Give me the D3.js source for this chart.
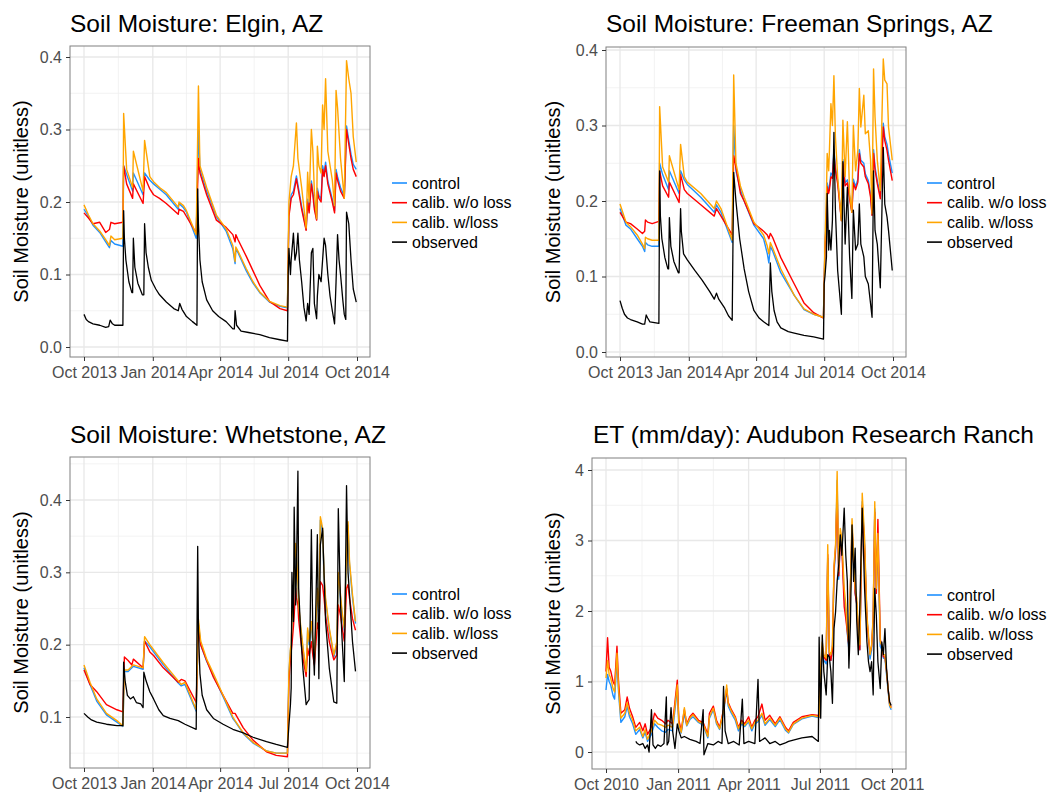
<!DOCTYPE html>
<html>
<head>
<meta charset="utf-8">
<script src="https://cdn.jsdelivr.net/npm/d3@7"></script>
<style>
  html, body { margin: 0; padding: 0; background: #ffffff; }
  svg { display: block; font-family: "Liberation Sans", Arial, Helvetica, sans-serif; }
</style>
</head>
<body>
<svg id="chart" width="1057" height="792"></svg>
<script>
// ---------------- DATA (days since series start, values) ----------------
const seriesNames = ["control", "calib. w/o loss", "calib. w/loss", "observed"];
const seriesColors = ["#1E90FF", "#FF0000", "#FFA500", "#000000"];

// Elgin, AZ (start 2013-10-01)
const elginDays = [0,6,12,21,29,34,36,41,52,53,57,65,66,79,81,88,93,101,110,126,127,133,137,150,153,155,164,177,190,199,202,203,206,217,226,235,248,262,272,
  274,277,280,284,286,291,297,299,301,304,306,308,311,312,314,317,319,321,323,326,332,335,337,339,343,348,351,354,357,360,364];
const elginControl = [0.19,0.18,0.168,0.158,0.145,0.137,0.147,0.142,0.139,0.25,0.238,0.215,0.24,0.21,0.24,0.23,0.225,0.218,0.21,0.19,0.198,0.192,0.186,0.15,0.3,0.245,0.215,0.18,0.16,0.135,0.115,0.135,0.13,0.105,0.088,0.075,0.062,0.056,0.054,
  0.183,0.21,0.215,0.236,0.224,0.194,0.162,0.204,0.189,0.229,0.214,0.194,0.176,0.219,0.209,0.204,0.25,0.24,0.255,0.229,0.204,0.188,0.245,0.235,0.22,0.208,0.305,0.285,0.266,0.252,0.245];
const elginNoLoss = [0.185,0.178,0.17,0.172,0.158,0.162,0.172,0.17,0.172,0.25,0.225,0.205,0.225,0.198,0.235,0.218,0.21,0.205,0.198,0.183,0.19,0.187,0.18,0.157,0.26,0.24,0.21,0.175,0.165,0.155,0.145,0.155,0.148,0.125,0.105,0.085,0.063,0.053,0.05,
  0.18,0.205,0.21,0.232,0.22,0.19,0.161,0.2,0.185,0.225,0.21,0.19,0.175,0.215,0.205,0.2,0.245,0.235,0.25,0.225,0.2,0.185,0.24,0.23,0.215,0.205,0.3,0.28,0.26,0.245,0.235];
const elginLoss = [0.196,0.182,0.17,0.16,0.148,0.14,0.153,0.148,0.15,0.322,0.245,0.22,0.27,0.215,0.285,0.235,0.228,0.22,0.213,0.193,0.2,0.195,0.188,0.155,0.36,0.25,0.22,0.182,0.163,0.14,0.118,0.138,0.132,0.108,0.09,0.076,0.063,0.057,0.055,
  0.2,0.235,0.25,0.309,0.26,0.22,0.164,0.241,0.2,0.3,0.27,0.215,0.177,0.277,0.25,0.24,0.334,0.3,0.37,0.27,0.23,0.195,0.354,0.33,0.26,0.205,0.395,0.37,0.35,0.29,0.255];
const elginObsDays = [0,3,6,12,21,29,33,35,38,41,52,53,54,56,60,64,65,66,68,72,78,80,81,83,86,90,96,101,110,120,126,128,131,137,145,151,152,153,155,158,164,172,180,190,199,201,202,204,210,220,235,248,262,272,
  273,274,276,277,280,282,284,286,288,291,294,297,299,301,303,304,306,308,311,312,314,317,319,321,323,326,329,332,335,337,339,341,343,346,348,350,351,354,357,360,364];
const elginObs = [0.045,0.038,0.035,0.032,0.03,0.027,0.028,0.037,0.032,0.03,0.03,0.188,0.15,0.12,0.09,0.075,0.075,0.15,0.11,0.088,0.072,0.072,0.17,0.13,0.11,0.092,0.08,0.072,0.062,0.053,0.05,0.06,0.052,0.042,0.035,0.03,0.218,0.17,0.12,0.09,0.065,0.05,0.042,0.035,0.025,0.025,0.05,0.03,0.022,0.02,0.017,0.013,0.01,0.008,
  0.1,0.136,0.1,0.12,0.157,0.12,0.13,0.157,0.12,0.09,0.055,0.036,0.06,0.045,0.1,0.13,0.136,0.06,0.039,0.07,0.1,0.09,0.12,0.15,0.14,0.1,0.07,0.05,0.032,0.09,0.155,0.12,0.1,0.065,0.045,0.038,0.186,0.17,0.12,0.08,0.062];

// Freeman Springs, AZ (start 2013-10-01)
const freemanDays = [0,8,14,23,30,33,34,37,43,52,53,57,65,66,79,81,86,90,108,126,129,135,150,152,155,161,166,179,192,197,199,201,204,215,233,246,259,272,
  274,276,277,279,280,282,284,286,288,291,296,298,301,304,307,310,312,315,318,320,322,326,328,332,335,337,339,341,344,348,352,354,357,359,364];
const freemanControl = [0.19,0.168,0.163,0.15,0.14,0.133,0.145,0.142,0.14,0.14,0.25,0.235,0.215,0.24,0.21,0.24,0.228,0.222,0.205,0.185,0.195,0.185,0.145,0.3,0.24,0.215,0.2,0.168,0.15,0.13,0.118,0.14,0.134,0.105,0.075,0.056,0.05,0.046,
  0.138,0.183,0.224,0.214,0.219,0.237,0.234,0.268,0.245,0.227,0.175,0.255,0.224,0.228,0.206,0.186,0.229,0.219,0.229,0.268,0.254,0.25,0.236,0.227,0.209,0.182,0.268,0.245,0.227,0.207,0.303,0.285,0.275,0.262,0.237];
const freemanNoLoss = [0.185,0.172,0.17,0.163,0.157,0.16,0.175,0.172,0.17,0.173,0.24,0.22,0.205,0.225,0.198,0.235,0.215,0.21,0.195,0.18,0.19,0.18,0.155,0.26,0.245,0.21,0.2,0.17,0.16,0.155,0.15,0.157,0.152,0.125,0.09,0.065,0.052,0.045,
  0.135,0.179,0.219,0.21,0.215,0.232,0.23,0.263,0.241,0.223,0.174,0.25,0.22,0.224,0.202,0.185,0.224,0.215,0.225,0.263,0.25,0.245,0.232,0.223,0.205,0.181,0.263,0.241,0.223,0.203,0.298,0.28,0.267,0.254,0.227];
const freemanLoss = [0.196,0.172,0.166,0.155,0.143,0.137,0.152,0.15,0.148,0.148,0.325,0.245,0.225,0.26,0.215,0.275,0.232,0.225,0.21,0.19,0.2,0.19,0.148,0.367,0.25,0.22,0.205,0.172,0.155,0.14,0.13,0.145,0.138,0.11,0.075,0.057,0.05,0.046,
  0.143,0.21,0.263,0.24,0.267,0.329,0.3,0.366,0.285,0.232,0.174,0.307,0.232,0.305,0.21,0.185,0.3,0.24,0.267,0.349,0.298,0.34,0.289,0.293,0.254,0.183,0.375,0.311,0.254,0.214,0.388,0.36,0.355,0.298,0.254];
const freemanObsDays = [0,3,6,10,14,23,30,33,35,37,40,52,53,54,56,60,64,65,66,68,72,78,79,81,82,85,90,100,110,120,126,129,132,140,145,150,152,155,160,166,172,179,186,192,199,201,203,206,210,215,225,233,246,259,272,
  273,274,276,277,279,280,282,284,286,288,291,296,298,301,304,307,310,312,315,318,320,322,326,328,332,335,337,339,341,344,348,352,354,357,359,364];
const freemanObs = [0.068,0.058,0.05,0.045,0.043,0.04,0.037,0.037,0.049,0.045,0.04,0.038,0.24,0.18,0.15,0.125,0.11,0.11,0.178,0.14,0.12,0.105,0.105,0.19,0.16,0.13,0.122,0.108,0.095,0.08,0.07,0.078,0.07,0.058,0.048,0.042,0.238,0.2,0.15,0.11,0.08,0.055,0.045,0.04,0.035,0.118,0.08,0.055,0.04,0.032,0.027,0.025,0.022,0.02,0.017,
  0.09,0.1,0.126,0.21,0.135,0.161,0.135,0.174,0.291,0.188,0.108,0.05,0.252,0.143,0.218,0.126,0.071,0.188,0.135,0.143,0.196,0.143,0.126,0.1,0.09,0.064,0.046,0.24,0.161,0.143,0.085,0.271,0.196,0.179,0.161,0.108];

// Whetstone, AZ (start 2013-10-01)
const whetDays = [0,8,17,30,44,52,54,59,64,66,79,81,88,93,106,126,130,135,150,153,156,164,173,186,199,202,213,226,244,257,272,
  274,276,277,278,280,281,283,284,286,287,290,293,297,299,301,304,306,308,312,314,316,319,321,323,328,334,338,340,343,345,348,351,353,355,359,363];
const whetControl = [0.168,0.145,0.122,0.103,0.093,0.087,0.163,0.163,0.168,0.17,0.166,0.205,0.197,0.19,0.172,0.147,0.143,0.145,0.108,0.23,0.2,0.177,0.157,0.128,0.098,0.094,0.077,0.064,0.053,0.05,0.05,
  0.16,0.192,0.197,0.228,0.265,0.296,0.336,0.32,0.283,0.251,0.22,0.192,0.16,0.22,0.2,0.228,0.2,0.174,0.274,0.246,0.372,0.357,0.292,0.26,0.22,0.183,0.2,0.296,0.265,0.242,0.22,0.32,0.365,0.31,0.265,0.229];
const whetNoLoss = [0.165,0.145,0.135,0.117,0.11,0.107,0.183,0.178,0.172,0.18,0.168,0.205,0.19,0.185,0.168,0.148,0.152,0.15,0.12,0.222,0.2,0.178,0.155,0.13,0.105,0.105,0.085,0.068,0.052,0.047,0.045,
  0.149,0.18,0.19,0.2,0.225,0.24,0.278,0.265,0.255,0.235,0.205,0.18,0.156,0.195,0.185,0.204,0.185,0.172,0.23,0.22,0.287,0.282,0.264,0.24,0.204,0.179,0.186,0.255,0.24,0.225,0.205,0.278,0.283,0.264,0.236,0.22];
const whetLoss = [0.172,0.148,0.125,0.105,0.095,0.088,0.165,0.165,0.17,0.172,0.168,0.211,0.2,0.193,0.175,0.15,0.145,0.148,0.11,0.235,0.205,0.18,0.16,0.13,0.1,0.095,0.078,0.065,0.053,0.05,0.05,
  0.163,0.195,0.2,0.232,0.269,0.3,0.34,0.324,0.287,0.255,0.223,0.195,0.163,0.223,0.204,0.232,0.204,0.177,0.278,0.25,0.377,0.361,0.296,0.264,0.223,0.186,0.204,0.3,0.269,0.246,0.223,0.324,0.37,0.315,0.269,0.232];
const whetObsDays = [0,5,10,17,30,44,52,53,55,58,62,66,70,76,79,80,83,88,93,100,106,115,126,135,150,152,153,155,158,164,173,186,199,213,226,244,257,272,
  274,276,277,278,280,281,283,284,286,287,290,293,297,299,301,304,306,308,312,314,316,319,321,323,328,334,338,340,343,345,348,351,353,355,359,363];
const whetObs = [0.105,0.1,0.096,0.093,0.09,0.088,0.088,0.176,0.15,0.13,0.125,0.128,0.12,0.118,0.113,0.162,0.15,0.135,0.125,0.11,0.102,0.098,0.095,0.09,0.083,0.336,0.22,0.16,0.13,0.11,0.098,0.09,0.083,0.078,0.072,0.066,0.062,0.058,
  0.089,0.117,0.14,0.3,0.232,0.39,0.255,0.3,0.44,0.278,0.209,0.163,0.117,0.121,0.124,0.359,0.209,0.158,0.352,0.153,0.338,0.361,0.296,0.232,0.167,0.121,0.119,0.388,0.255,0.209,0.149,0.42,0.3,0.269,0.204,0.163];

// Audubon Research Ranch ET (start 2010-10-01)
const audModelDays = [0,2,4,6,9,11,14,16,19,24,27,30,34,38,43,47,50,53,58,62,66,71,76,79,85,91,93,96,100,103,107,111,118,124,130,132,137,141,145,150,154,156,160,165,169,173,177,182,186,190,194,199,203,209,216,222,229,233,239,250,263,271,
  272,274,276,278,281,283,285,287,289,291,293,295,297,299,301,304,306,308,310,312,314,316,318,320,322,324,327,330,333,335,337,339,341,343,345,347,350,352,354,356,358,360,362,364];
const audControl = [0.88,1.1,1.0,0.95,0.8,0.75,1.3,0.85,0.42,0.5,0.65,0.5,0.4,0.25,0.32,0.2,0.28,0.15,0.25,0.4,0.35,0.3,0.28,0.32,0.3,0.9,0.38,0.27,0.55,0.37,0.46,0.5,0.42,0.38,0.2,0.48,0.6,0.4,0.32,0.55,0.88,0.65,0.55,0.45,0.3,0.4,0.36,0.43,0.3,0.4,0.43,0.52,0.38,0.46,0.36,0.46,0.31,0.27,0.39,0.47,0.51,0.49,
  0.49,1.1,1.45,1.3,1.25,2.75,1.35,1.3,1.45,2.55,2.85,3.85,2.45,3.05,2.95,2.2,2.0,1.68,1.45,2.35,3.2,2.7,2.25,2.1,1.68,1.45,3.55,2.95,1.88,1.6,1.32,1.45,1.88,3.45,2.25,3.0,1.5,1.45,1.33,1.33,1.1,0.87,0.65,0.6];
const audNoLoss = [1.14,1.62,1.2,1.15,1.0,0.95,1.5,1.0,0.55,0.6,0.78,0.62,0.5,0.35,0.42,0.3,0.4,0.25,0.35,0.55,0.48,0.45,0.4,0.45,0.4,1.02,0.45,0.3,0.6,0.4,0.5,0.55,0.45,0.42,0.25,0.55,0.65,0.45,0.35,0.6,0.9,0.7,0.6,0.5,0.35,0.45,0.4,0.5,0.35,0.45,0.5,0.68,0.45,0.52,0.4,0.5,0.35,0.3,0.42,0.5,0.53,0.52,
  0.5,1.15,1.5,1.35,1.3,2.8,1.4,1.3,1.45,2.6,2.9,3.7,2.5,2.95,2.9,2.06,1.9,1.7,1.5,2.35,3.2,2.7,2.25,2.1,1.7,1.45,3.5,2.9,1.9,1.6,1.4,1.5,1.9,3.4,2.25,3.3,1.6,1.5,1.35,1.35,1.15,0.9,0.68,0.63];
const audLoss = [1.05,1.3,1.1,1.05,0.9,0.85,1.4,0.9,0.48,0.55,0.7,0.55,0.45,0.3,0.35,0.22,0.32,0.18,0.3,0.45,0.4,0.38,0.35,0.38,0.35,0.95,0.4,0.28,0.63,0.38,0.48,0.53,0.43,0.4,0.22,0.5,0.62,0.42,0.33,0.58,0.95,0.68,0.58,0.48,0.33,0.42,0.38,0.45,0.33,0.42,0.45,0.55,0.4,0.48,0.38,0.48,0.33,0.28,0.4,0.48,0.52,0.5,
  0.5,1.19,1.56,1.38,1.33,2.94,1.42,1.38,1.52,2.65,2.94,3.98,2.56,3.17,3.03,2.32,2.09,1.75,1.52,2.42,3.31,2.79,2.32,2.18,1.75,1.52,3.67,3.03,1.94,1.66,1.38,1.52,1.94,3.55,2.32,3.1,1.56,1.52,1.38,1.38,1.14,0.9,0.67,0.62];
const audObsDays = [38,40,43,47,50,53,55,58,60,63,66,70,74,77,78,80,83,85,88,91,93,96,100,107,115,120,124,125,130,137,143,148,150,152,156,163,170,174,176,182,190,194,196,203,209,216,222,229,233,239,250,263,271,
  272,274,276,278,281,283,285,287,289,291,293,295,297,299,301,304,306,308,310,312,314,316,318,320,322,324,327,330,333,335,337,339,341,343,345,347,350,352,354,356,358,360,362,364];
const audObs = [0.15,0.12,0.1,0.12,0.05,0.1,0.0,0.6,0.1,0.05,0.1,0.08,0.12,0.78,0.1,0.15,0.63,0.3,0.05,0.4,0.3,0.2,0.22,0.18,0.15,0.12,0.6,-0.04,0.12,0.1,0.15,0.12,0.93,0.3,0.12,0.15,0.1,0.75,0.12,0.15,0.12,1.03,0.15,0.2,0.12,0.15,0.1,0.13,0.15,0.17,0.2,0.22,0.15,
  1.63,0.48,1.66,1.14,0.81,1.38,1.35,1.14,0.69,1.75,1.99,2.42,2.65,3.08,2.79,3.46,2.79,2.42,1.19,1.85,3.22,2.42,2.89,1.85,1.38,2.09,3.46,2.32,1.56,1.28,1.14,1.28,0.81,2.32,1.94,1.28,0.9,1.56,1.38,1.75,1.19,0.9,0.71,0.66];

const smTicks = [0.0, 0.1, 0.2, 0.3, 0.4];
const whetTicks = [0.1, 0.2, 0.3, 0.4];
const etTicks = [0, 1, 2, 3, 4];

// ---------------- LAYOUT ----------------
const panels = [
  { title: "Soil Moisture: Elgin, AZ", start: "2013-10-01",
    days: elginDays, model: [elginControl, elginNoLoss, elginLoss], obsDays: elginObsDays, obs: elginObs,
    left: 70, right: 370, top: 46, bottom: 357, xA: 84, xB: 357,
    yDom: [0, 0.4], yRange: [347, 57], yTicks: smTicks, fmt: ".1f",
    titleX: 70, titleY: 32, ylabX: 28, legX: 392, legY: 183 },
  { title: "Soil Moisture: Freeman Springs, AZ", start: "2013-10-01",
    days: freemanDays, model: [freemanControl, freemanNoLoss, freemanLoss], obsDays: freemanObsDays, obs: freemanObs,
    left: 606, right: 906, top: 47, bottom: 357, xA: 620, xB: 893,
    yDom: [0, 0.4], yRange: [352, 50], yTicks: smTicks, fmt: ".1f",
    titleX: 606, titleY: 32, ylabX: 560, legX: 927, legY: 183 },
  { title: "Soil Moisture: Whetstone, AZ", start: "2013-10-01",
    days: whetDays, model: [whetControl, whetNoLoss, whetLoss], obsDays: whetObsDays, obs: whetObs,
    left: 70, right: 370, top: 457, bottom: 768, xA: 84, xB: 357,
    yDom: [0.1, 0.4], yRange: [717, 500], yTicks: whetTicks, fmt: ".1f",
    titleX: 70, titleY: 443, ylabX: 28, legX: 392, legY: 594 },
  { title: "ET (mm/day): Audubon Research Ranch", start: "2010-10-01",
    days: audModelDays, model: [audControl, audNoLoss, audLoss], obsDays: audObsDays, obs: audObs,
    left: 592, right: 906, top: 458, bottom: 769, xA: 606, xB: 892,
    yDom: [0, 4], yRange: [752, 470], yTicks: etTicks, fmt: "d",
    titleX: 593, titleY: 443, ylabX: 560, legX: 927, legY: 595 }
];

const svg = d3.select("#chart");
const parse = d3.utcParse("%Y-%m-%d");
const monthFmt = d3.utcFormat("%b %Y");

panels.forEach((p, pi) => {
  const t0 = parse(p.start);
  const t1 = d3.utcYear.offset(t0, 1);
  const x = d3.scaleUtc().domain([t0, t1]).range([p.xA, p.xB]);
  const y = d3.scaleLinear().domain(p.yDom).range(p.yRange);
  const majors = d3.range(5).map(i => d3.utcMonth.offset(t0, 3 * i));
  const minorsX = d3.range(4).map(i => new Date((+majors[i] + +majors[i + 1]) / 2));
  const yStep = p.yTicks[1] - p.yTicks[0];
  const yLo = y.invert(p.bottom), yHi = y.invert(p.top);
  const minorsY = d3.range(p.yTicks[0] - yStep / 2, yHi, yStep).filter(v => v > yLo && v < yHi);
  const majorsY = p.yTicks;

  const g = svg.append("g");
  const clipId = "clip" + pi;
  svg.append("clipPath").attr("id", clipId).append("rect")
    .attr("x", p.left).attr("y", p.top).attr("width", p.right - p.left).attr("height", p.bottom - p.top);

  g.append("rect").attr("x", p.left).attr("y", p.top).attr("width", p.right - p.left).attr("height", p.bottom - p.top)
    .attr("fill", "#ffffff");

  // minor grid
  g.selectAll(".mgx").data(minorsX).enter().append("line")
    .attr("x1", d => x(d)).attr("x2", d => x(d)).attr("y1", p.top).attr("y2", p.bottom)
    .attr("stroke", "#f0f0f0").attr("stroke-width", 0.8);
  g.selectAll(".mgy").data(minorsY).enter().append("line")
    .attr("y1", d => y(d)).attr("y2", d => y(d)).attr("x1", p.left).attr("x2", p.right)
    .attr("stroke", "#f0f0f0").attr("stroke-width", 0.8);
  // major grid
  g.selectAll(".Mgx").data(majors).enter().append("line")
    .attr("x1", d => x(d)).attr("x2", d => x(d)).attr("y1", p.top).attr("y2", p.bottom)
    .attr("stroke", "#e8e8e8").attr("stroke-width", 1.3);
  g.selectAll(".Mgy").data(majorsY).enter().append("line")
    .attr("y1", d => y(d)).attr("y2", d => y(d)).attr("x1", p.left).attr("x2", p.right)
    .attr("stroke", "#e8e8e8").attr("stroke-width", 1.3);

  // lines
  const line = d3.line().x(d => x(d[0])).y(d => y(d[1]));
  const lg = g.append("g").attr("clip-path", `url(#${clipId})`);
  p.model.forEach((vals, si) => {
    const pts = p.days.map((dd, i) => [d3.utcDay.offset(t0, dd), vals[i]]);
    lg.append("path").attr("d", line(pts)).attr("fill", "none")
      .attr("stroke", seriesColors[si]).attr("stroke-width", 1.4).attr("stroke-linejoin", "round");
  });
  const obsPts = p.obsDays.map((dd, i) => [d3.utcDay.offset(t0, dd), p.obs[i]]);
  lg.append("path").attr("d", line(obsPts)).attr("fill", "none")
    .attr("stroke", seriesColors[3]).attr("stroke-width", 1.3).attr("stroke-linejoin", "round");

  // border
  g.append("rect").attr("x", p.left).attr("y", p.top).attr("width", p.right - p.left).attr("height", p.bottom - p.top)
    .attr("fill", "none").attr("stroke", "#808080").attr("stroke-width", 1);

  // axes
  const xAxis = d3.axisBottom(x).tickValues(majors).tickFormat(monthFmt).tickSize(4).tickPadding(6);
  const xg = g.append("g").attr("transform", `translate(0,${p.bottom})`).call(xAxis);
  const yAxis = d3.axisLeft(y).tickValues(majorsY).tickFormat(d3.format(p.fmt)).tickSize(4).tickPadding(4);
  const yg = g.append("g").attr("transform", `translate(${p.left},0)`).call(yAxis);
  [xg, yg].forEach(ax => {
    ax.select(".domain").remove();
    ax.selectAll(".tick line").attr("stroke", "#333333").attr("stroke-width", 1);
    ax.selectAll(".tick text").attr("fill", "#4d4d4d").style("font-size", "16px")
      .style("font-family", '"Liberation Sans", Arial, sans-serif');
  });

  // title
  g.append("text").attr("x", p.titleX).attr("y", p.titleY).text(p.title)
    .attr("fill", "#000").style("font-size", "24.5px");
  // y label
  g.append("text").attr("transform", `translate(${p.ylabX},${(p.top + p.bottom) / 2}) rotate(-90)`)
    .attr("text-anchor", "middle").text("Soil Moisture (unitless)")
    .attr("fill", "#000").style("font-size", "20px");

  // legend
  const leg = g.append("g");
  seriesNames.forEach((nm, i) => {
    const yy = p.legY + i * 19.7;
    leg.append("line").attr("x1", p.legX).attr("x2", p.legX + 15).attr("y1", yy).attr("y2", yy)
      .attr("stroke", seriesColors[i]).attr("stroke-width", 1.6);
    leg.append("text").attr("x", p.legX + 20).attr("y", yy).attr("dy", "0.35em").text(nm)
      .attr("fill", "#000").style("font-size", "16px");
  });
});
</script>
</body>
</html>
